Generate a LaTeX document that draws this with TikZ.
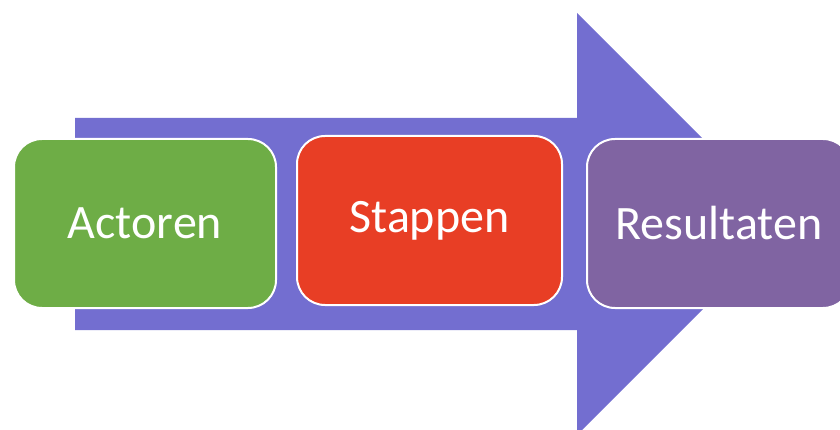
\documentclass[tikz,border=0pt]{standalone}
\usepackage{fontspec}
\setmainfont{Carlito}
\definecolor{pijl}{HTML}{736ED0}
\definecolor{groen}{HTML}{6EAD46}
\definecolor{rood}{HTML}{E83E25}
\definecolor{paars}{HTML}{8064A2}
\tikzset{
    blok/.style={draw=white, line width=2pt, rounded corners=28pt, minimum width=262pt,
        minimum height=169pt, text=white, font=\fontsize{48}{56}\selectfont}
}
\begin{document}
\begin{tikzpicture}[x=1pt,y=-1pt]
        \useasboundingbox (0,0) rectangle (840,430);
        %Pijl achtergrond
        \fill[pijl] (75,118) -- (577,118) -- (577,13) -- (788,224) -- (577,435)
            -- (577,330) -- (75,330) -- cycle;
        %Blokken
        \node[blok, fill=groen] (actoren) at (145,223.5) {Actoren};
        \node[blok, fill=rood, minimum width=265pt] (stappen) at (429.5,220.5) {Stappen};
        \node[blok, fill=paars, minimum width=264pt] (resultaten) at (719,223.5) {Resultaten};
    \end{tikzpicture}
\end{document}
